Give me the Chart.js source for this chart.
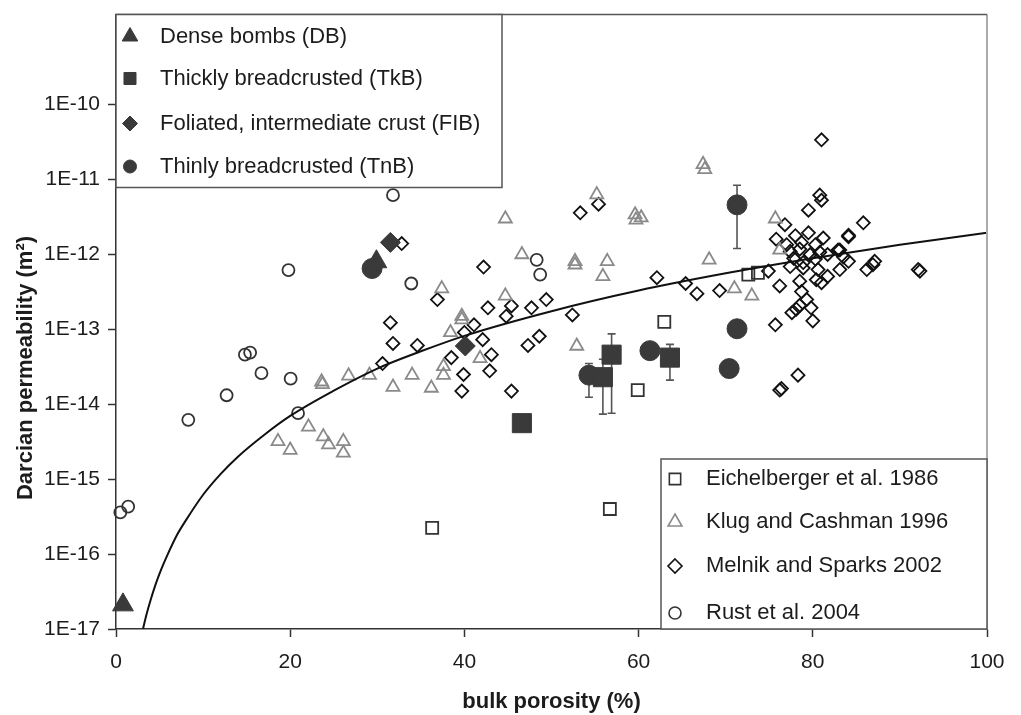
<!DOCTYPE html>
<html>
<head>
<meta charset="utf-8">
<title>Darcian permeability vs bulk porosity</title>
<script src="https://cdn.jsdelivr.net/npm/chart.js@4.4.0/dist/chart.umd.min.js"></script>
<style>
  html, body { margin: 0; padding: 0; background: #fff; }
  #wrap { position: relative; width: 1021px; height: 715px; }
</style>
</head>
<body>
<div id="wrap"><canvas id="chart"></canvas></div>
<script>
'use strict';

// axes
var xTicks = [0, 20, 40, 60, 80, 100];
var yTickValues = [1e-17, 1e-16, 1e-15, 1e-14, 1e-13, 1e-12, 1e-11, 1e-10];
var yTickLabels = ['1E-17', '1E-16', '1E-15', '1E-14', '1E-13', '1E-12', '1E-11', '1E-10'];
var yMin = 1e-17;
var yMax = 1.6e-9;

// fitted trend curve
var curveX = [3.1, 3.5, 4, 4.5, 5, 6, 7, 8, 10, 12, 14, 17, 20, 25, 30, 35, 40, 50, 60, 70, 80, 90, 100];
var curveY = [1e-17, 1.56e-17, 2.5e-17, 3.8e-17, 5.5e-17, 1.03e-16, 1.8e-16, 2.8e-16, 6.2e-16, 1.17e-15,
  2.0e-15, 3.9e-15, 7.0e-15, 1.52e-14, 3.0e-14, 5.1e-14, 8.2e-14, 1.75e-13, 3.3e-13, 5.6e-13, 8.9e-13, 1.35e-12, 1.95e-12];

// this study (filled symbols)
var dbX = [0.8, 29.9];
var dbY = [2.1e-17, 8.0e-13];

var tkbX = [46.6, 55.9, 56.9, 63.6];
var tkbY = [5.6e-15, 2.3e-14, 4.6e-14, 4.2e-14];
var tkbErrLow = [null, 7.4e-15, 7.6e-15, 2.1e-14];
var tkbErrHigh = [null, 4.0e-14, 8.7e-14, 6.3e-14];

var fibX = [31.5, 40.1];
var fibY = [1.45e-12, 6.0e-14];

var tnbX = [29.4, 54.3, 61.3, 70.4, 71.3, 71.3];
var tnbY = [6.5e-13, 2.45e-14, 5.2e-14, 3.0e-14, 1.02e-13, 4.6e-12];
var tnbErrLow = [null, 1.24e-14, null, null, null, 1.2e-12];
var tnbErrHigh = [null, 3.5e-14, null, null, null, 8.4e-12];

// literature data (open symbols)
var eichX = [36.3, 56.7, 62.95, 59.9, 72.6, 73.7];
var eichY = [2.24e-16, 4.0e-16, 1.26e-13, 1.55e-14, 5.4e-13, 5.7e-13];

var klugX = [18.6, 20.0, 22.1, 23.8, 24.4, 26.1, 26.1, 23.6, 23.7, 26.7,
  29.1, 31.8, 34.0, 36.2, 37.4, 37.6, 37.6, 38.4, 39.7, 39.7,
  41.8, 44.7, 44.7, 46.6, 55.2, 59.6, 60.3, 59.7, 52.7, 52.7,
  56.4, 55.9, 52.9, 67.4, 67.6, 68.1, 71.0, 73.0, 75.7, 76.2];
var klugY = [3.2e-15, 2.45e-15, 5.0e-15, 3.7e-15, 2.9e-15, 3.2e-15, 2.24e-15, 2.0e-14, 1.85e-14, 2.4e-14,
  2.45e-14, 1.7e-14, 2.45e-14, 1.65e-14, 3.5e-13, 3.2e-14, 2.45e-14, 9.1e-14, 1.5e-13, 1.35e-13,
  4.1e-14, 3.0e-12, 2.8e-13, 1.0e-12, 6.3e-12, 3.4e-12, 3.1e-12, 2.9e-12, 8.1e-13, 7.3e-13,
  8.1e-13, 5.1e-13, 6.0e-14, 1.6e-11, 1.37e-11, 8.5e-13, 3.5e-13, 2.8e-13, 3.0e-12, 1.15e-12];

var melX = [32.8, 42.2, 36.9, 31.5, 31.8, 34.6, 30.6, 42.7, 45.4, 44.8,
  47.7, 49.4, 41.1, 40.0, 42.1, 38.5, 43.1, 39.9, 42.9, 39.7,
  45.4, 47.3, 48.6, 53.3, 55.4, 52.4, 62.1, 65.4, 66.7, 69.3,
  74.9, 76.2, 75.7, 76.4, 76.2, 78.3, 81.0, 80.8, 81.0, 79.5,
  85.8, 84.1, 84.1, 83.1, 84.1, 86.2, 86.9, 87.1, 92.1, 92.3,
  83.1, 76.8, 75.8, 78.0, 79.5, 81.2, 77.0, 78.7, 80.3, 77.4,
  78.5, 79.7, 80.8, 81.7, 82.9, 83.5, 77.8, 78.9, 80.3, 77.4,
  78.9, 80.6, 78.5, 80.4, 81.7, 81.0, 78.7, 79.3, 79.8, 78.5,
  78.1, 77.6, 80.0];
var melY = [1.4e-12, 6.8e-13, 2.5e-13, 1.23e-13, 6.5e-14, 6.1e-14, 3.5e-14, 1.94e-13, 2.06e-13, 1.5e-13,
  1.94e-13, 2.5e-13, 1.15e-13, 9.1e-14, 7.3e-14, 4.2e-14, 4.6e-14, 2.5e-14, 2.8e-14, 1.5e-14,
  1.5e-14, 6.1e-14, 8.1e-14, 3.6e-12, 4.7e-12, 1.56e-13, 4.9e-13, 4.1e-13, 3.0e-13, 3.3e-13,
  6.0e-13, 3.8e-13, 1.15e-13, 1.62e-14, 1.55e-14, 2.45e-14, 3.4e-11, 6.2e-12, 5.3e-12, 3.9e-12,
  2.65e-12, 1.8e-12, 1.73e-12, 1.15e-12, 8.1e-13, 6.3e-13, 7.3e-13, 8.1e-13, 6.3e-13, 6.0e-13,
  6.3e-13, 2.5e-12, 1.6e-12, 1.78e-12, 1.95e-12, 1.66e-12, 1.35e-12, 1.45e-12, 1.35e-12, 1.1e-12,
  1.18e-12, 1.0e-12, 1.07e-12, 1.0e-12, 1.15e-12, 9.3e-13, 8.9e-13, 7.8e-13, 8.7e-13, 6.9e-13,
  6.6e-13, 6.3e-13, 4.4e-13, 4.6e-13, 5.1e-13, 4.2e-13, 3.2e-13, 2.5e-13, 1.94e-13, 2.1e-13,
  1.86e-13, 1.67e-13, 1.3e-13];

var rustX = [0.5, 1.4, 8.3, 12.7, 14.8, 15.4, 16.7, 19.8, 20.05, 20.9, 31.8, 33.9, 48.3, 48.7];
var rustY = [3.6e-16, 4.3e-16, 6.2e-15, 1.32e-14, 4.6e-14, 4.9e-14, 2.6e-14, 6.2e-13, 2.2e-14, 7.6e-15, 6.2e-12, 4.1e-13, 8.5e-13, 5.4e-13];

var FONT = "'Liberation Sans', Arial, sans-serif";
var DARK = '#3a3a3a';
var TEXT = '#1c1c1c';

function toPoints(xs, ys) {
  return xs.map(function (x, i) { return { x: x, y: ys[i] }; });
}

function drawMarker(ctx, style, x, y, r, fill, stroke, lw) {
  ctx.beginPath();
  if (style === 'triangle') {
    ctx.moveTo(x, y - r);
    ctx.lineTo(x + r * 0.866, y + r * 0.5);
    ctx.lineTo(x - r * 0.866, y + r * 0.5);
    ctx.closePath();
  } else if (style === 'rect') {
    var s = r * Math.SQRT1_2;
    ctx.rect(x - s, y - s, 2 * s, 2 * s);
  } else if (style === 'rectRot') {
    ctx.moveTo(x, y - r);
    ctx.lineTo(x + r, y);
    ctx.lineTo(x, y + r);
    ctx.lineTo(x - r, y);
    ctx.closePath();
  } else {
    ctx.arc(x, y, r, 0, Math.PI * 2);
  }
  if (fill) { ctx.fillStyle = fill; ctx.fill(); }
  if (stroke) { ctx.strokeStyle = stroke; ctx.lineWidth = lw; ctx.stroke(); }
}

function drawLegend(ctx, chart, box, group) {
  ctx.save();
  ctx.fillStyle = '#fff';
  ctx.fillRect(box.x, box.y, box.w, box.h);
  ctx.strokeStyle = '#555';
  ctx.lineWidth = 1.5;
  ctx.strokeRect(box.x, box.y, box.w, box.h);
  ctx.font = '22px ' + FONT;
  ctx.textAlign = 'left';
  ctx.textBaseline = 'middle';
  var items = chart.data.datasets.filter(function (d) { return d.legendGroup === group; });
  items.forEach(function (d, i) {
    var y = box.y + box.rows[i];
    var open = d.pointBackgroundColor === 'rgba(0,0,0,0)';
    drawMarker(ctx, d.pointStyle, box.markerX, y, box.markerR[i],
      open ? null : d.pointBackgroundColor, d.pointBorderColor, open ? 1.6 : 1);
    ctx.fillStyle = TEXT;
    ctx.fillText(d.label, box.textX, y);
  });
  ctx.restore();
}

var errorBarPlugin = {
  id: 'errorBars',
  beforeDatasetsDraw: function (chart) {
    var ctx = chart.ctx;
    var yScale = chart.scales.y;
    ctx.save();
    ctx.strokeStyle = '#555';
    ctx.lineWidth = 1.6;
    chart.data.datasets.forEach(function (d, i) {
      if (!d.errLow) return;
      var meta = chart.getDatasetMeta(i);
      meta.data.forEach(function (pt, j) {
        if (d.errLow[j] == null) return;
        var y1 = yScale.getPixelForValue(d.errLow[j]);
        var y2 = yScale.getPixelForValue(d.errHigh[j]);
        ctx.beginPath();
        ctx.moveTo(pt.x, y1); ctx.lineTo(pt.x, y2);
        ctx.moveTo(pt.x - 4, y1); ctx.lineTo(pt.x + 4, y1);
        ctx.moveTo(pt.x - 4, y2); ctx.lineTo(pt.x + 4, y2);
        ctx.stroke();
      });
    });
    ctx.restore();
  }
};

var framePlugin = {
  id: 'frame',
  afterDraw: function (chart) {
    var ctx = chart.ctx;
    var a = chart.chartArea;
    ctx.save();
    // top and right edges of the plot box
    ctx.strokeStyle = '#aaa';
    ctx.lineWidth = 2;
    ctx.beginPath();
    ctx.moveTo(a.right, a.top); ctx.lineTo(a.right, a.bottom);
    ctx.stroke();
    ctx.strokeStyle = '#555';
    ctx.lineWidth = 1.5;
    ctx.beginPath();
    ctx.moveTo(a.left, a.top); ctx.lineTo(a.right, a.top);
    ctx.stroke();

    drawLegend(ctx, chart, {
      x: a.left, y: a.top, w: 386, h: 173,
      rows: [22, 64, 109, 152], markerX: a.left + 14, markerR: [9, 8.5, 7.5, 6.5], textX: a.left + 44
    }, 'study');
    drawLegend(ctx, chart, {
      x: 661, y: 459, w: a.right - 661, h: a.bottom - 459,
      rows: [20, 63, 107, 154], markerX: 675, markerR: [8, 8, 7, 6], textX: 706
    }, 'literature');

    // y axis title
    ctx.translate(32, 368);
    ctx.rotate(-Math.PI / 2);
    ctx.font = 'bold 22px ' + FONT;
    ctx.fillStyle = TEXT;
    ctx.textAlign = 'center';
    ctx.textBaseline = 'alphabetic';
    ctx.fillText('Darcian permeability (m\u00B2)', 0, 0);
    ctx.restore();
  }
};

function filledSet(label, xs, ys, style, r, order) {
  return {
    label: label, legendGroup: 'study', data: toPoints(xs, ys),
    pointStyle: style, pointRadius: r, pointHoverRadius: r,
    pointBackgroundColor: DARK, pointBorderColor: DARK, pointBorderWidth: 1,
    order: order, clip: false
  };
}

function openSet(label, xs, ys, style, r, color, order) {
  return {
    label: label, legendGroup: 'literature', data: toPoints(xs, ys),
    pointStyle: style, pointRadius: r, pointHoverRadius: r,
    pointBackgroundColor: 'rgba(0,0,0,0)', pointBorderColor: color, pointBorderWidth: 1.8,
    order: order, clip: false
  };
}

var tkbSet = filledSet('Thickly breadcrusted (TkB)', tkbX, tkbY, 'rect', 13.5, 0.2);
tkbSet.errLow = tkbErrLow; tkbSet.errHigh = tkbErrHigh;
var tnbSet = filledSet('Thinly breadcrusted (TnB)', tnbX, tnbY, 'circle', 10, 0.3);
tnbSet.errLow = tnbErrLow; tnbSet.errHigh = tnbErrHigh;

var datasets = [
  filledSet('Dense bombs (DB)', dbX, dbY, 'triangle', 12, 0),
  tkbSet,
  filledSet('Foliated, intermediate crust (FIB)', fibX, fibY, 'rectRot', 10, 0.1),
  tnbSet,
  {
    type: 'line', label: 'fit', data: toPoints(curveX, curveY),
    borderColor: '#111', borderWidth: 2, pointRadius: 0, fill: false,
    showLine: true, cubicInterpolationMode: 'monotone', order: 1
  },
  openSet('Eichelberger et al. 1986', eichX, eichY, 'rect', 8.5, '#333', 2),
  openSet('Klug and Cashman 1996', klugX, klugY, 'triangle', 7.5, '#8a8a8a', 3),
  openSet('Melnik and Sparks 2002', melX, melY, 'rectRot', 6.5, '#111', 4),
  openSet('Rust et al. 2004', rustX, rustY, 'circle', 6, '#333', 5)
];

new Chart(document.getElementById('chart'), {
  type: 'scatter',
  data: { datasets: datasets },
  plugins: [errorBarPlugin, framePlugin],
  options: {
    responsive: true,
    maintainAspectRatio: false,
    animation: false,
    events: [],
    layout: { padding: { top: 9, right: 34, left: 0, bottom: 0 } },
    plugins: { legend: { display: false }, tooltip: { enabled: false } },
    scales: {
      x: {
        type: 'linear', min: 0, max: 100,
        afterBuildTicks: function (scale) {
          scale.ticks = xTicks.map(function (v) { return { value: v }; });
        },
        afterFit: function (scale) {
          scale.height = 86;
          scale.paddingLeft = 0; scale.paddingRight = 0;
        },
        border: { display: true, color: '#333', width: 1.5 },
        grid: { drawOnChartArea: false, drawTicks: true, tickLength: 8, color: '#333', tickWidth: 1.5 },
        ticks: { color: TEXT, font: { family: FONT, size: 21 }, padding: 13, maxRotation: 0 },
        title: { display: true, text: 'bulk porosity (%)', color: TEXT, font: { family: FONT, size: 22, weight: 'bold' }, padding: { top: 0, bottom: 0 } }
      },
      y: {
        type: 'logarithmic', min: yMin, max: yMax, bounds: 'data',
        afterBuildTicks: function (scale) {
          scale.ticks = yTickValues.map(function (v) { return { value: v, major: true }; });
        },
        afterFit: function (scale) {
          scale.width = 116;
          scale.paddingTop = 0; scale.paddingBottom = 0;
        },
        border: { display: true, color: '#333', width: 1.5 },
        grid: { drawOnChartArea: false, drawTicks: true, tickLength: 8, color: '#333', tickWidth: 1.5 },
        ticks: {
          color: TEXT, font: { family: FONT, size: 21 }, padding: 8, autoSkip: false,
          callback: function (value, index) { return yTickLabels[index]; }
        }
      }
    }
  }
});
</script>
</body>
</html>
